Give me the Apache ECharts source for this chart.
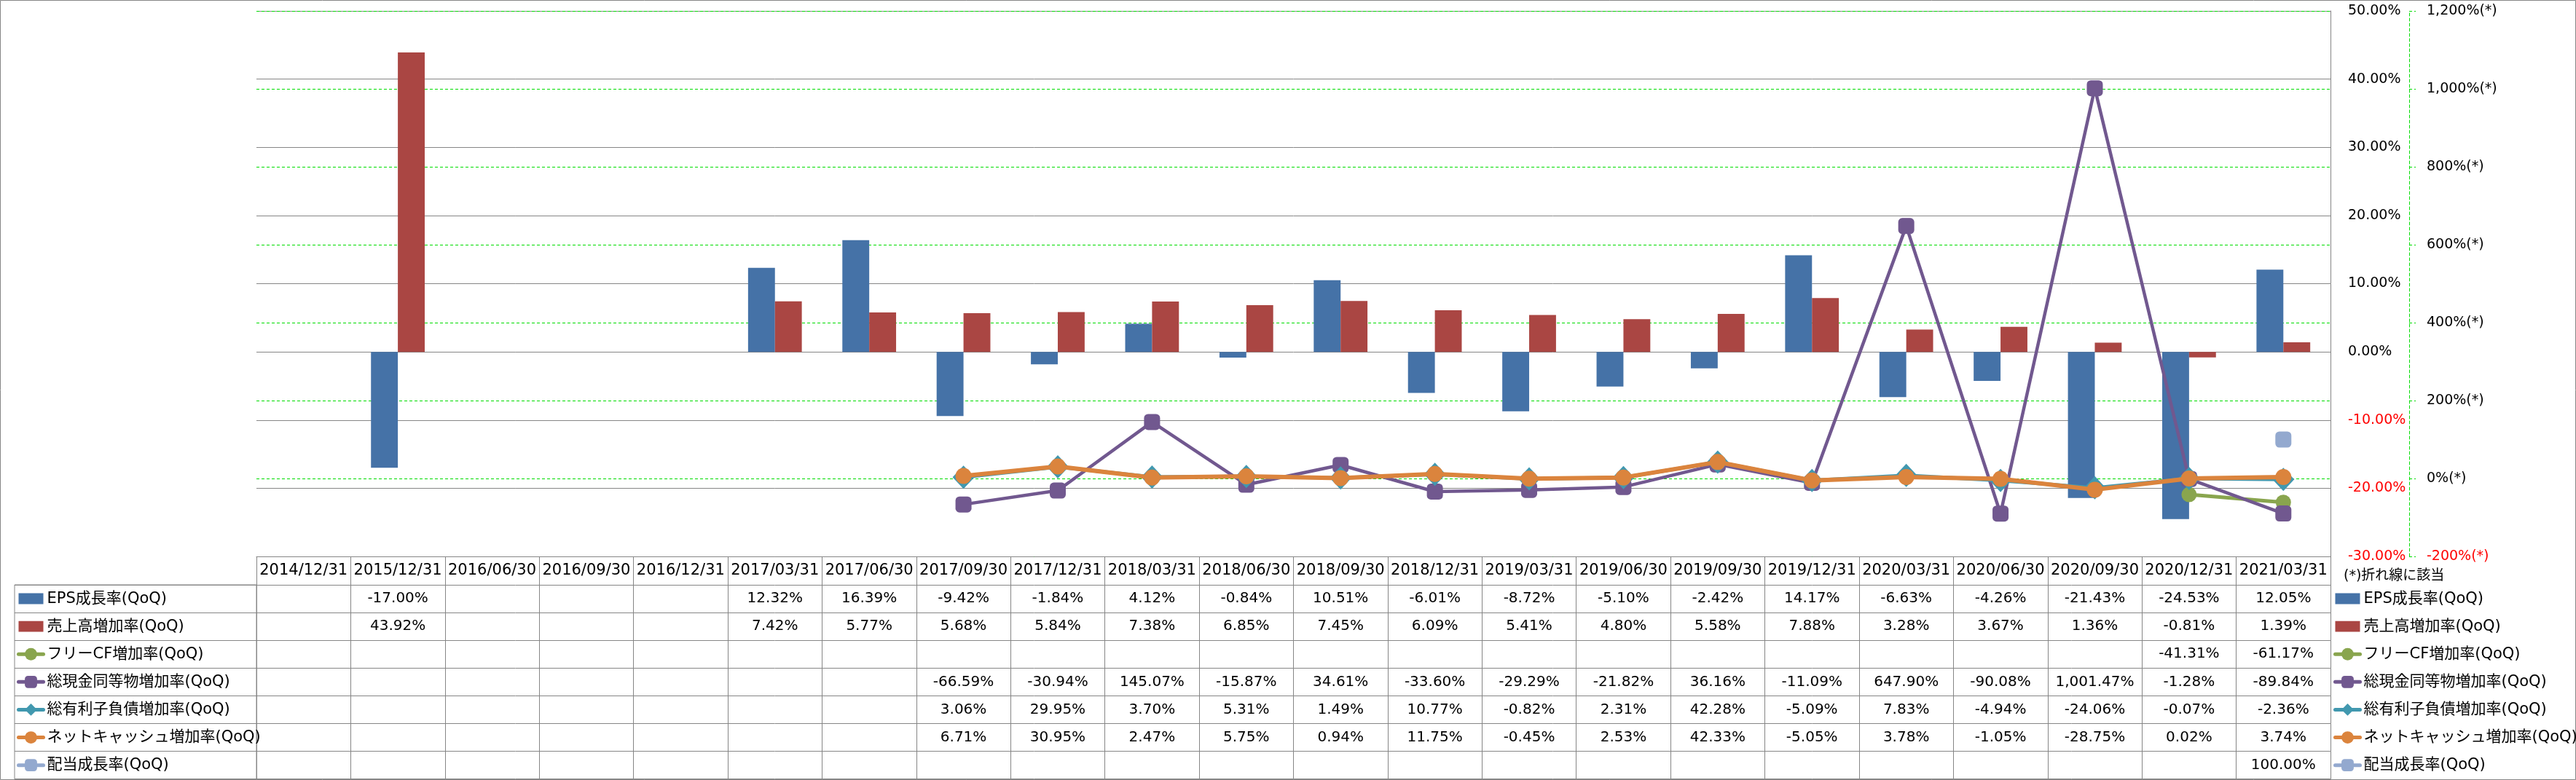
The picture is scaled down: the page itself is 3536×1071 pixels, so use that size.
<!DOCTYPE html>
<html><head><meta charset="utf-8">
<script src="https://cdn.jsdelivr.net/npm/echarts@6/dist/echarts.min.js"></script>
<style>html,body{margin:0;padding:0;background:#fff}#c{width:3536px;height:1071px}</style>
</head><body><div id="c"></div>
<script>
// ---------- data ----------
const categories = ['2014/12/31','2015/12/31','2016/06/30','2016/09/30','2016/12/31','2017/03/31','2017/06/30','2017/09/30','2017/12/31','2018/03/31','2018/06/30','2018/09/30','2018/12/31','2019/03/31','2019/06/30','2019/09/30','2019/12/31','2020/03/31','2020/06/30','2020/09/30','2020/12/31','2021/03/31'];
const seriesNames = ['EPS成長率(QoQ)','売上高増加率(QoQ)','フリーCF増加率(QoQ)','総現金同等物増加率(QoQ)','総有利子負債増加率(QoQ)','ネットキャッシュ増加率(QoQ)','配当成長率(QoQ)'];
const epsGrowth      = [null,-17.00,null,null,null,12.32,16.39,-9.42,-1.84,4.12,-0.84,10.51,-6.01,-8.72,-5.10,-2.42,14.17,-6.63,-4.26,-21.43,-24.53,12.05];
const salesGrowth    = [null,43.92,null,null,null,7.42,5.77,5.68,5.84,7.38,6.85,7.45,6.09,5.41,4.80,5.58,7.88,3.28,3.67,1.36,-0.81,1.39];
const freeCfGrowth   = [null,null,null,null,null,null,null,null,null,null,null,null,null,null,null,null,null,null,null,null,-41.31,-61.17];
const cashGrowth     = [null,null,null,null,null,null,null,-66.59,-30.94,145.07,-15.87,34.61,-33.60,-29.29,-21.82,36.16,-11.09,647.90,-90.08,1001.47,-1.28,-89.84];
const debtGrowth     = [null,null,null,null,null,null,null,3.06,29.95,3.70,5.31,1.49,10.77,-0.82,2.31,42.28,-5.09,7.83,-4.94,-24.06,-0.07,-2.36];
const netCashGrowth  = [null,null,null,null,null,null,null,6.71,30.95,2.47,5.75,0.94,11.75,-0.45,2.53,42.33,-5.05,3.78,-1.05,-28.75,0.02,3.74];
const dividendGrowth = [null,null,null,null,null,null,null,null,null,null,null,null,null,null,null,null,null,null,null,null,null,100.00];
const leftAxisTicks  = [-30,-20,-10,0,10,20,30,40,50];
const rightAxisTicks = [-200,0,200,400,600,800,1000,1200];
const noteText = '(*)折れ線に該当';

// ---------- styling ----------
const tableRows = [epsGrowth, salesGrowth, freeCfGrowth, cashGrowth, debtGrowth, netCashGrowth, dividendGrowth];
const colors = ['#4572A7','#AA4643','#89A54E','#71588F','#4198AF','#DB843D','#93A9CF'];
const GRAY = '#868686', GREEN = '#00DD00';
const TF = '"DejaVu Sans","Noto Sans CJK JP",sans-serif';
const AX = '"DejaVu Sans",sans-serif';
const HEADER_H = 39, ROW_H = 38.1;
const PLOT_BOTTOM = 764;

function pct(v){ return v == null ? '' : v.toLocaleString('en-US',{minimumFractionDigits:2,maximumFractionDigits:2}) + '%'; }

const xAxes = [{
  type:'category', gridIndex:0, data:categories, position:'bottom', boundaryGap:true,
  axisLine:{onZero:false, lineStyle:{color:GRAY,width:1}},
  axisTick:{show:true, interval:0, length:HEADER_H, lineStyle:{color:GRAY,width:1}},
  axisLabel:{interval:0, margin:HEADER_H/2, verticalAlign:'middle', fontSize:21, fontFamily:TF, color:'#000'},
  splitLine:{show:false}
}];
tableRows.forEach((row,i)=>{
  xAxes.push({
    type:'category', gridIndex:0, data:categories, position:'bottom', offset:HEADER_H + ROW_H*i,
    axisLine:{onZero:false, lineStyle:{color:GRAY,width:1}},
    axisTick:{show:true, interval:0, length:ROW_H, lineStyle:{color:GRAY,width:1}},
    axisLabel:{interval:0, margin:ROW_H/2, verticalAlign:'middle', fontSize:20, fontFamily:TF, color:'#000',
      formatter:(v,idx)=>pct(row[idx])},
    splitLine:{show:false}
  });
});
xAxes.push({
  type:'category', gridIndex:0, data:categories, position:'bottom', offset:HEADER_H + ROW_H*tableRows.length,
  axisLine:{onZero:false, lineStyle:{color:GRAY,width:1}}, axisTick:{show:false}, axisLabel:{show:false}, splitLine:{show:false}
});
xAxes.push({type:'value', gridIndex:1, show:false});
xAxes.push({type:'value', gridIndex:2, show:false});

const barIcon = 'path://M0,0H32V14H0Z';
function legendData(){
  return seriesNames.map((n,i)=> i<2 ? {name:n, icon:barIcon} : {name:n});
}
const legendCommon = {
  orient:'vertical', itemWidth:34, itemHeight:21, itemGap:ROW_H-22, padding:0, selectedMode:false,
  lineStyle:{width:5},
  textStyle:{fontSize:21, lineHeight:22, fontFamily:TF, color:'#000'}
};

const lineDefs = [
  {data:freeCfGrowth, symbol:'circle', size:21, width:5},
  {data:cashGrowth, symbol:'roundRect', size:22, width:4.5},
  {data:debtGrowth, symbol:'diamond', size:[30,32], width:5},
  {data:netCashGrowth, symbol:'circle', size:22, width:6},
  {data:dividendGrowth, symbol:'roundRect', size:22, width:5}
];

const series = [
  {type:'bar', name:seriesNames[0], data:epsGrowth, xAxisIndex:0, yAxisIndex:0, itemStyle:{color:colors[0]}, barGap:'0%', barCategoryGap:'43%'},
  {type:'bar', name:seriesNames[1], data:salesGrowth, xAxisIndex:0, yAxisIndex:0, itemStyle:{color:colors[1]}, barGap:'0%', barCategoryGap:'43%'}
];
lineDefs.forEach((d,k)=>{
  const c = colors[k+2];
  series.push({type:'line', name:seriesNames[k+2], data:d.data, xAxisIndex:0, yAxisIndex:1,
    symbol:d.symbol, symbolSize:d.size, showAllSymbol:true, connectNulls:false,
    lineStyle:{color:c, width:d.width, join:'round', cap:'round'}, itemStyle:{color:c}, z:3+k});
});

const option = {
  animation:false,
  backgroundColor:'#fff',
  title:{text:noteText, left:3217, top:782, padding:0, textStyle:{fontSize:19, fontWeight:'normal', fontFamily:TF, color:'#000'}},
  grid:[
    {left:352, right:337, top:15, bottom:1071-PLOT_BOTTOM, containLabel:false},
    {left:20, top:PLOT_BOTTOM+HEADER_H, width:332, height:ROW_H*7, show:true, borderColor:GRAY, borderWidth:1, backgroundColor:'transparent'},
    {left:0.5, top:0.5, right:0.5, bottom:0.5, show:true, borderColor:GRAY, borderWidth:1, backgroundColor:'transparent'}
  ],
  legend:[
    Object.assign({left:23, top:PLOT_BOTTOM+HEADER_H+(ROW_H-22)/2, data:legendData()}, legendCommon),
    Object.assign({left:3203, top:PLOT_BOTTOM+HEADER_H+(ROW_H-22)/2, data:legendData()}, legendCommon)
  ],
  xAxis:xAxes,
  yAxis:[
    {type:'value', gridIndex:0, position:'right', min:leftAxisTicks[0], max:leftAxisTicks[leftAxisTicks.length-1], interval:leftAxisTicks[1]-leftAxisTicks[0],
      axisLine:{show:true, lineStyle:{color:GRAY,width:1}}, axisTick:{show:false},
      splitLine:{show:true, lineStyle:{color:GRAY,width:1}},
      axisLabel:{margin:24, fontSize:19, fontFamily:AX, color:v=>Number(v)<0?'#FF0000':'#000', formatter:v=>v.toFixed(2)+'%'}},
    {type:'value', gridIndex:0, position:'right', offset:108, min:rightAxisTicks[0], max:rightAxisTicks[rightAxisTicks.length-1], interval:rightAxisTicks[1]-rightAxisTicks[0],
      axisLine:{show:true, lineStyle:{color:GREEN,width:1,type:[4,3]}},
      axisTick:{show:true, length:9, lineStyle:{color:GREEN,width:1,type:[4,3]}},
      splitLine:{show:true, lineStyle:{color:GREEN,width:1,type:[4,3]}},
      axisLabel:{margin:24, fontSize:19, fontFamily:AX, color:v=>Number(v)<0?'#FF0000':'#000', formatter:v=>v.toLocaleString('en-US')+'%(*)'}},
    {type:'category', gridIndex:1, data:seriesNames, inverse:true, axisLine:{show:false}, axisTick:{show:false}, axisLabel:{show:false},
      splitLine:{show:true, interval:0, lineStyle:{color:GRAY,width:1}}},
    {type:'value', gridIndex:2, show:false}
  ],
  series:series
};
const chart = echarts.init(document.getElementById('c'), null, {renderer:'canvas'});
chart.setOption(option);
</script>
</body></html>
